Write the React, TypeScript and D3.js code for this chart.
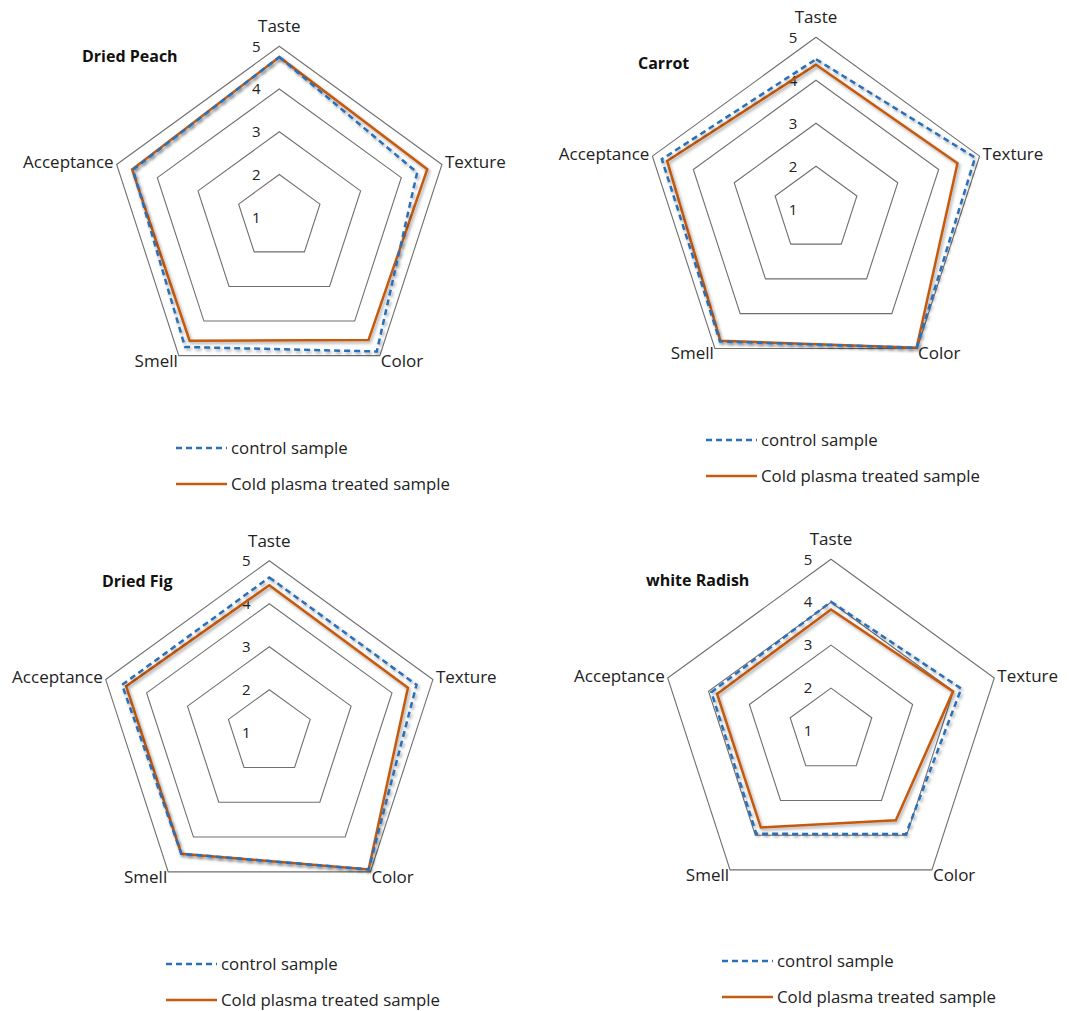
import React from "react";
import * as d3 from "d3";

const axes = ["Taste", "Texture", "Color", "Smell", "Acceptance"];
const ticks = [1, 2, 3, 4, 5];
const seriesNames = ["control sample", "Cold plasma treated sample"];

const peachControl = [4.75, 4.39, 4.88, 4.75, 4.6];
const peachTreated = [4.75, 4.64, 4.55, 4.57, 4.62];
const carrotControl = [4.49, 4.89, 4.98, 4.8, 4.77];
const carrotTreated = [4.36, 4.46, 4.98, 4.78, 4.64];
const figControl = [4.61, 4.6, 4.93, 4.48, 4.6];
const figTreated = [4.43, 4.39, 4.93, 4.48, 4.5];
const radishControl = [4.01, 4.19, 3.97, 3.96, 3.93];
const radishTreated = [3.83, 3.99, 3.57, 3.78, 3.79];

const titles = ["Dried Peach", "Carrot", "Dried Fig", "white Radish"];

const BLUE = "#2a6fb9";
const ORANGE = "#c55a11";
const GRID = "#6f6f6f";
const FONT = "'Open Sans', sans-serif";

type Layout = {
  cx: number; cy: number; R: number;
  tx: number; ty: number;
  lx: number; ly: number;
};

const layouts: Layout[] = [
  { cx: 279.3, cy: 217.3, R: 171, tx: 82, ty: 62, lx: 176, ly: 448 },
  { cx: 816, cy: 209.3, R: 172, tx: 638, ty: 69, lx: 706, ly: 440 },
  { cx: 269.3, cy: 732.7, R: 172, tx: 102, ty: 587, lx: 166, ly: 964 },
  { cx: 831, cy: 731, R: 171.7, tx: 646, ty: 586, lx: 722, ly: 961 },
];

const chartData = [
  [peachControl, peachTreated],
  [carrotControl, carrotTreated],
  [figControl, figTreated],
  [radishControl, radishTreated],
];

function Radar({ layout, title, data }: { layout: Layout; title: string; data: number[][] }) {
  const { cx, cy, R, tx, ty, lx, ly } = layout;
  const r = d3.scaleLinear().domain([1, 5]).range([0, R]);
  const angle = d3.scalePoint<string>().domain(axes).range([0, (2 * Math.PI * (axes.length - 1)) / axes.length]);
  const pt = (a: string, v: number): [number, number] => {
    const t = angle(a)!;
    return [cx + r(v) * Math.sin(t), cy - r(v) * Math.cos(t)];
  };
  const line = d3.line<[number, number]>().curve(d3.curveLinearClosed);
  const gridLevels = ticks.slice(1);
  return (
    <g>
      {gridLevels.map((lv) => (
        <path key={lv} d={line(axes.map((a) => pt(a, lv)))!} fill="none" stroke={GRID} strokeWidth={1.1} />
      ))}
      {ticks.map((lv) => (
        <text key={"t" + lv} x={cx - 23} y={pt("Taste", lv)[1]} dy="0.35em" textAnchor="middle" fontSize={15} fontFamily={FONT} fill="#222">
          {lv}
        </text>
      ))}
      {axes.map((a) => {
        const [x, y] = pt(a, 5);
        let props: any = {};
        if (a === "Taste") props = { x, y: y - 14, textAnchor: "middle" };
        else if (a === "Texture") props = { x: x + 3, y: y - 2, dy: "0.35em", textAnchor: "start" };
        else if (a === "Color") props = { x: x + 1, y: y + 5, dy: "0.35em", textAnchor: "start" };
        else if (a === "Smell") props = { x: x - 1, y: y + 5, dy: "0.35em", textAnchor: "end" };
        else props = { x: x - 3, y: y - 2, dy: "0.35em", textAnchor: "end" };
        return (
          <text key={a} {...props} fontSize={17} fontFamily={FONT} fill="#222">
            {a}
          </text>
        );
      })}
      <path d={line(axes.map((a, i) => pt(a, data[1][i])))!} fill="none" stroke={ORANGE} strokeWidth={2.5} strokeLinejoin="miter" filter="url(#shadow)" />
      <path d={line(axes.map((a, i) => pt(a, data[0][i])))!} fill="none" stroke={BLUE} strokeWidth={2.5} strokeDasharray="6,4" strokeLinejoin="miter" filter="url(#shadow)" />
      <text x={tx} y={ty} fontSize={16} fontWeight="bold" fontFamily={FONT} fill="#111">
        {title}
      </text>
      <g>
        <line x1={lx} x2={lx + 51} y1={ly} y2={ly} stroke={BLUE} strokeWidth={2.5} strokeDasharray="6,4" />
        <text x={lx + 55} y={ly} dy="0.35em" fontSize={16.8} fontFamily={FONT} fill="#222">
          {seriesNames[0]}
        </text>
        <line x1={lx} x2={lx + 51} y1={ly + 36} y2={ly + 36} stroke={ORANGE} strokeWidth={2.5} />
        <text x={lx + 55} y={ly + 36} dy="0.35em" fontSize={16.8} fontFamily={FONT} fill="#222">
          {seriesNames[1]}
        </text>
      </g>
    </g>
  );
}

export default function App() {
  return (
    <svg width={1069} height={1011} style={{ position: "absolute", left: 0, top: 0, background: "#fff" }}>
      <defs>
        <filter id="shadow" x="-20%" y="-20%" width="140%" height="140%">
          <feDropShadow dx={1.5} dy={2} stdDeviation={1.8} floodColor="#000" floodOpacity={0.35} />
        </filter>
      </defs>
      <rect width={1069} height={1011} fill="#fff" />
      {layouts.map((l, i) => (
        <Radar key={i} layout={l} title={titles[i]} data={chartData[i]} />
      ))}
    </svg>
  );
}
